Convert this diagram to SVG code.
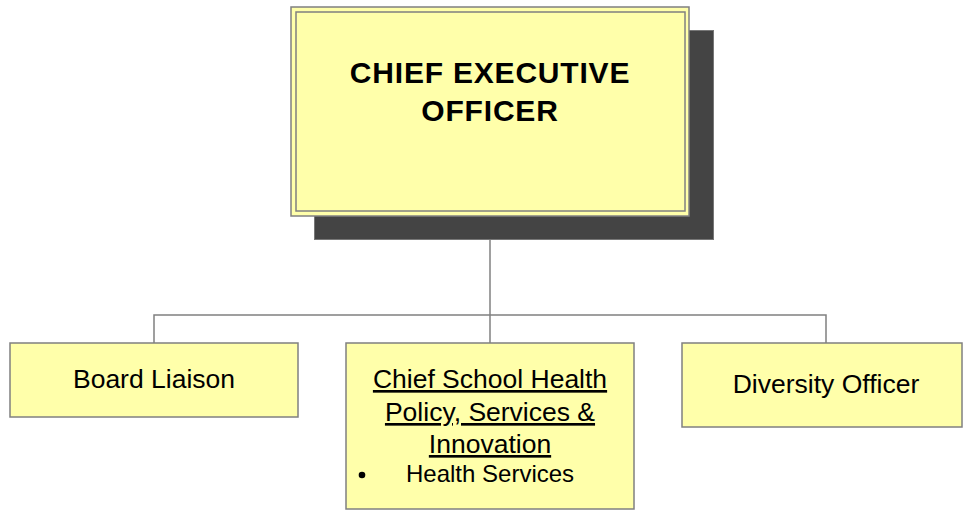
<svg xmlns="http://www.w3.org/2000/svg" width="963" height="510" viewBox="0 0 963 510">
<style>
.box{fill:#FFFFAA;stroke:#808080;stroke-width:1.5}
.inner{fill:none;stroke:#808080;stroke-width:1.5}
.shadow{fill:#444444;stroke:#777777;stroke-width:1}
.conn{fill:none;stroke:#808080;stroke-width:1.5}
.t{font-family:"Liberation Sans",Arial,sans-serif;fill:#000;text-anchor:middle}
.ceo{font-size:30px;font-weight:bold;letter-spacing:0.8px}
.n{font-size:26.5px}
.s{font-size:24px;text-anchor:start}
</style>
<rect width="963" height="510" fill="#FFFFFF"/>
<g id="connectors">
<line class="conn" x1="490" y1="216" x2="490" y2="343"/>
<polyline class="conn" points="154,343 154,315 826,315 826,343"/>
</g>
<g id="ceo">
<rect class="shadow" x="314.5" y="30.5" width="399" height="209"/>
<rect class="box" x="291" y="7" width="398" height="209"/>
<rect class="inner" x="296" y="12" width="389" height="199"/>
<text class="t ceo" x="490" y="83">CHIEF EXECUTIVE</text>
<text class="t ceo" x="490" y="121">OFFICER</text>
</g>
<g id="board-liaison">
<rect class="box" x="10" y="343" width="288" height="74"/>
<text class="t n" x="154" y="388">Board Liaison</text>
</g>
<g id="chief-school-health">
<rect class="box" x="346" y="343" width="288" height="166"/>
<text class="t n" x="490" y="388" text-decoration="underline">Chief School Health</text>
<text class="t n" x="490" y="421" text-decoration="underline">Policy, Services &amp;</text>
<text class="t n" x="490" y="453" text-decoration="underline">Innovation</text>
<circle cx="362" cy="475" r="3.3" fill="#000"/>
<text class="t s" x="406" y="482">Health Services</text>
</g>
<g id="diversity-officer">
<rect class="box" x="682" y="343" width="280" height="84"/>
<text class="t n" x="826" y="393">Diversity Officer</text>
</g>
</svg>
